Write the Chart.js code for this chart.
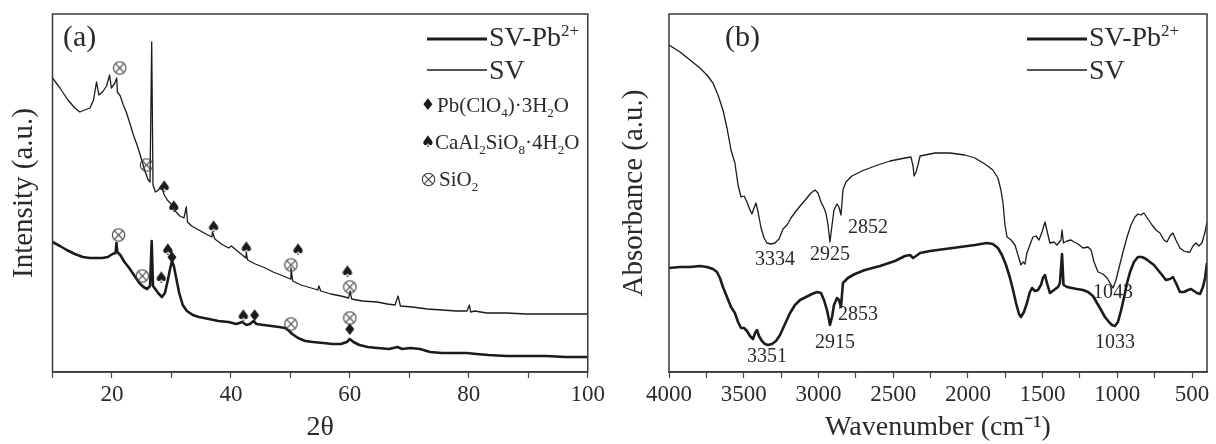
<!DOCTYPE html>
<html lang="en">
<head>
<meta charset="UTF-8">
<title>XRD and FTIR of SV and SV-Pb2+</title>
<script src="https://cdn.jsdelivr.net/npm/chart.js"></script>
<style>
  html, body { margin: 0; padding: 0; background: #fff; }
  #wrap { position: relative; width: 1216px; height: 444px; }
  canvas { position: absolute; top: 0; }
  #xrd { left: 0; }
  #ftir { left: 608px; }
</style>
</head>
<body>
<div id="wrap">
  <canvas id="xrd" width="608" height="444"></canvas>
  <canvas id="ftir" width="608" height="444"></canvas>
</div>
<script>
// ---- (a) XRD: [2theta, intensity a.u.] ----
const xrdSV = [
  [10,294],[11.25,284],[12.6,272],[13.75,264],[14.6,260],[15.4,262],[16.3,264],[16.9,272],
  [17.4,290],[17.8,277],[18.4,280],[19.1,286],[19.6,297],[19.9,284],[20.4,288],[20.8,294],
  [20.9,280],[21.4,276],[21.9,267],[22.4,260],[23.1,247],[23.6,237],[24.1,229],[24.6,220],
  [25.1,210],[25.6,200],[26.1,192],[26.4,190],[26.68,330],[26.9,187],[27.3,180],[27.8,182],
  [28.3,186],[28.8,177],[29.3,172],[29.8,169],[30.3,164],[30.8,160],[31.4,156],[32.1,154],
  [32.5,165],[32.7,150],[33.4,146],[34.6,142],[35.8,138],[36.8,135],[36.9,140],[37.3,133],
  [38.4,128],[39.6,124],[40.1,126],[41.3,120],[42.5,114],[42.6,119],[42.8,112],[44.1,108],
  [45.8,104],[47.1,100],[48.8,96],[50.0,93],[50.1,104],[50.4,91],[51.8,87],[53.5,84],
  [54.6,82],[54.8,86],[55.1,81],[56.8,78],[58.5,76],[59.8,74],[60.05,81],[60.3,73],
  [62.1,71],[64.6,70],[66.3,68],[67.6,67],[68.1,76],[68.5,66],[70.5,65],[73.0,63],
  [75.5,62],[77.9,61],[79.7,61],[80.1,67],[80.3,60],[81.0,61],[83.0,59],[86.3,59],
  [89.7,58],[93.0,58],[96.3,58],[100,58]
];
const xrdSVPb = [
  [10,130],[11.25,126],[12.4,122],[13.75,118],[15.1,115],[16.3,114],[17.4,114],[18.4,114],
  [19.3,115],[20.1,118],[20.6,119],[20.75,129],[20.9,120],[21.4,117],[22.1,110],[22.9,104],
  [23.8,96],[24.6,89],[25.3,85],[25.9,83],[26.4,86],[26.68,131],[26.9,86],[27.4,82],
  [27.9,78],[28.4,75],[28.9,79],[29.4,92],[29.8,104],[30.1,111],[30.4,106],[30.8,94],
  [31.3,79],[31.9,67],[32.6,61],[33.6,57],[34.6,55],[36.3,53],[37.9,51],[39.6,50],
  [40.9,48],[41.9,50],[42.6,47],[43.2,48],[43.8,51],[44.3,48],[45.5,47],[46.8,46],
  [48.1,45],[49.1,44],[49.8,41],[50.3,38],[51.3,34],[52.5,31],[53.8,30],[55.5,29],
  [57.1,28],[58.5,28],[59.5,30],[60.0,33],[60.6,30],[61.6,27],[63.0,25],[64.6,24],
  [66.6,23],[68.0,25],[68.8,23],[70.2,24],[71.8,23],[73.5,20],[75.5,19],[77.9,19],
  [79.6,19],[81.3,18],[83.3,17],[86.3,16],[89.7,16],[93.0,16],[96.3,15],[100,15]
];
const xrdTicks = [10, 20, 30, 40, 50, 60, 70, 80, 90, 100];
const xrdTickLabels = [20, 40, 60, 80, 100];

// phase markers [2theta, intensity]
const svSiO2 = [[21.3,304],[25.8,207],[50.1,107],[60.0,85]];
const svCaAl = [[28.8,185],[30.4,165],[37.1,145],[42.6,124],[51.3,122],[59.6,100]];
const pbSiO2 = [[21.1,137],[25.1,96],[50.1,48],[60.0,54]];
const pbCaAl = [[28.3,94],[29.4,122],[42.1,56]];
const pbPbClO = [[30.1,114],[44.0,56],[60.0,42]];

// ---- (b) FTIR: [wavenumber cm-1, absorbance a.u.] ----
const ftirSV = [
  [4000,327],[3926,320],[3859,312],[3793,304],[3746,297],[3706,289],[3672,277],[3639,262],
  [3612,244],[3585,222],[3559,209],[3538,187],[3518,175],[3498,176],[3478,170],[3458,162],
  [3445,158],[3431,164],[3418,169],[3404,160],[3384,144],[3364,134],[3344,129],[3318,128],
  [3291,129],[3264,133],[3237,143],[3210,147],[3184,154],[3150,161],[3117,167],[3083,173],
  [3050,179],[3023,182],[3003,179],[2983,170],[2963,164],[2950,159],[2936,147],[2923,130],
  [2909,147],[2896,162],[2876,168],[2863,165],[2849,157],[2836,182],[2816,190],[2776,196],
  [2709,201],[2622,206],[2521,211],[2421,214],[2381,215],[2367,206],[2360,196],[2347,200],
  [2334,207],[2320,216],[2287,217],[2220,219],[2120,219],[2020,217],[1953,214],[1886,208],
  [1833,202],[1799,194],[1779,182],[1765,169],[1752,147],[1738,135],[1711,132],[1685,127],
  [1665,117],[1645,107],[1631,110],[1618,108],[1605,119],[1585,127],[1565,135],[1544,136],
  [1524,132],[1504,140],[1484,150],[1464,137],[1451,129],[1424,130],[1404,127],[1377,132],
  [1370,142],[1360,129],[1337,131],[1310,132],[1290,130],[1263,128],[1230,124],[1196,125],
  [1176,122],[1156,110],[1129,100],[1096,98],[1069,94],[1049,89],[1029,84],[1009,92],
  [989,104],[962,120],[935,135],[909,147],[882,155],[862,158],[842,157],[822,159],
  [795,153],[768,147],[741,142],[715,139],[688,132],[668,130],[648,136],[628,139],
  [608,132],[581,124],[554,121],[534,120],[514,120],[494,126],[474,129],[454,126],
  [434,129],[413,140],[400,150]
];
const ftirSVPb = [
  [4000,104],[3926,105],[3859,105],[3793,106],[3746,105],[3706,103],[3679,100],[3659,94],
  [3639,85],[3612,75],[3585,65],[3559,59],[3538,50],[3518,44],[3498,44],[3478,41],
  [3458,36],[3438,33],[3424,39],[3411,42],[3398,36],[3378,31],[3358,28],[3338,27],
  [3311,28],[3284,31],[3257,37],[3224,48],[3190,59],[3157,67],[3123,72],[3083,75],
  [3043,78],[3010,80],[2983,79],[2963,72],[2943,62],[2929,52],[2923,47],[2909,55],
  [2896,67],[2876,74],[2863,72],[2849,65],[2836,89],[2803,94],[2756,98],[2689,102],
  [2588,106],[2488,111],[2421,116],[2387,117],[2367,114],[2347,116],[2320,119],[2253,121],
  [2153,123],[2053,125],[1953,127],[1873,129],[1833,128],[1799,124],[1772,117],[1745,107],
  [1718,94],[1698,82],[1678,69],[1658,58],[1645,55],[1625,60],[1605,69],[1585,80],
  [1571,84],[1551,81],[1531,82],[1511,87],[1498,94],[1484,97],[1471,89],[1451,79],
  [1424,82],[1397,85],[1384,89],[1370,118],[1360,87],[1337,85],[1304,84],[1270,83],
  [1230,82],[1196,80],[1163,76],[1136,69],[1109,62],[1083,55],[1056,50],[1036,47],
  [1016,46],[996,50],[976,61],[956,74],[935,89],[915,100],[889,110],[862,115],
  [835,115],[808,113],[782,110],[755,107],[728,102],[701,97],[675,92],[648,93],
  [628,95],[608,89],[581,80],[554,80],[527,82],[507,83],[487,81],[467,79],
  [447,78],[427,85],[413,94],[400,109]
];
const ftirTicks = [4000, 3750, 3500, 3250, 3000, 2750, 2500, 2250, 2000, 1750, 1500, 1250, 1000, 750, 500];
const ftirTickLabels = [4000, 3500, 3000, 2500, 2000, 1500, 1000, 500];
// peak labels: [text, wavenumber, absorbance]
const ftirPeaks = [
  ['3334', 3291, 112], ['2925', 2923, 117], ['2852', 2669, 144],
  ['3351', 3344, 15], ['2915', 2889, 29], ['2853', 2736, 57],
  ['1043', 1029, 79], ['1033', 1016, 29]
];

const SERIF = '"Liberation Serif", "Times New Roman", serif';
const INK = '#1b1b1b';
const TXT = '#2a2a2a';

Chart.defaults.font.family = SERIF;
Chart.defaults.color = TXT;
Chart.defaults.animation = false;

// little glyph images used as point styles
function glyph(ch, size) {
  const c = document.createElement('canvas');
  c.width = 18; c.height = 18;
  const g = c.getContext('2d');
  g.fillStyle = INK;
  g.font = size + 'px "DejaVu Sans"';
  g.textAlign = 'center';
  g.textBaseline = 'middle';
  g.fillText(ch, 9, 9.5);
  return c;
}
function otimes() {
  const c = document.createElement('canvas');
  c.width = 15; c.height = 15;
  const g = c.getContext('2d');
  g.strokeStyle = '#3c3c3c';
  g.lineWidth = 1.1;
  g.beginPath(); g.arc(7.5, 7.5, 6.2, 0, Math.PI * 2); g.stroke();
  g.beginPath();
  g.moveTo(3.2, 3.2); g.lineTo(11.8, 11.8);
  g.moveTo(11.8, 3.2); g.lineTo(3.2, 11.8);
  g.stroke();
  return c;
}
const imgDiamond = glyph('\u2666', 16);
const imgSpade = glyph('\u2660', 16);
const imgOtimes = otimes();

function pts(a) { return a.map(p => ({ x: p[0], y: p[1] })); }

function curve(label, data, w) {
  return { label, data: pts(data), showLine: true, borderColor: INK, borderWidth: w,
    pointRadius: 0, pointHoverRadius: 0, tension: 0, borderJoinStyle: 'round', order: 2 };
}
function marks(data, img) {
  return { data: pts(data), showLine: false, pointStyle: img, pointRadius: 6,
    pointHoverRadius: 6, order: 1 };
}

function xScale(min, max, tickVals, labelVals, title, reverse) {
  return {
    type: 'linear', min, max, reverse,
    afterBuildTicks: s => { s.ticks = tickVals.map(v => ({ value: v })); },
    afterFit: s => { s.height = 72; },
    ticks: { autoSkip: false, maxRotation: 0, padding: 3, font: { size: 23 }, color: TXT,
      callback: v => labelVals.includes(v) ? String(v) : '' },
    grid: { drawOnChartArea: false, drawTicks: true, tickLength: 6, color: '#444', tickWidth: 1.2 },
    border: { display: true, color: '#3a3a3a', width: 1.5 },
    title: { display: true, text: title, font: { size: 28, lineHeight: 1 }, color: TXT,
      padding: { top: 0, bottom: 2 } }
  };
}
function yScale(title, width, pad) {
  return {
    type: 'linear', min: 0, max: 358,
    afterFit: s => { s.width = width; },
    ticks: { display: false },
    grid: { display: false },
    border: { display: false },
    title: { display: true, text: title, font: { size: 29, lineHeight: 1 }, color: TXT,
      padding: { top: pad, bottom: 0 } }
  };
}

// text with sub/superscripts: parts = [[text, 0 normal | 1 sub | 2 sup]]
function richText(ctx, x, y, parts, size) {
  let cx = x;
  ctx.textAlign = 'left';
  ctx.textBaseline = 'alphabetic';
  parts.forEach(([t, m]) => {
    const fs = m ? Math.round(size * 0.62) : size;
    ctx.font = fs + 'px ' + SERIF;
    const dy = m === 1 ? size * 0.25 : m === 2 ? -size * 0.36 : 0;
    ctx.fillText(t, cx, y + dy);
    cx += ctx.measureText(t).width;
  });
}

const frame = {
  id: 'frame',
  afterDatasetsDraw(c) {
    const a = c.chartArea, ctx = c.ctx;
    ctx.save();
    ctx.strokeStyle = '#3a3a3a';
    ctx.lineWidth = 1.5;
    ctx.strokeRect(a.left, a.top, a.right - a.left, a.bottom - a.top);
    ctx.restore();
  }
};

function decor(panel, px, lx) {
  return {
    id: 'decor',
    afterDraw(c) {
      const ctx = c.ctx;
      ctx.save();
      ctx.fillStyle = TXT;
      ctx.font = '30px ' + SERIF;
      ctx.textBaseline = 'middle';
      ctx.fillText(panel, px, 38);
      // series legend
      ctx.strokeStyle = INK;
      ctx.lineWidth = 3;
      ctx.beginPath(); ctx.moveTo(lx, 39); ctx.lineTo(lx + 60, 39); ctx.stroke();
      ctx.lineWidth = 1.3;
      ctx.beginPath(); ctx.moveTo(lx, 70); ctx.lineTo(lx + 60, 70); ctx.stroke();
      richText(ctx, lx + 62, 46, [['SV-Pb', 0], ['2+', 2]], 28);
      richText(ctx, lx + 62, 79, [['SV', 0]], 28);
      ctx.restore();
    }
  };
}

const phaseLegend = {
  id: 'phaseLegend',
  afterDraw(c) {
    const ctx = c.ctx;
    ctx.save();
    ctx.fillStyle = TXT;
    ctx.drawImage(imgDiamond, 419, 96);
    richText(ctx, 437, 112, [['Pb(ClO', 0], ['4', 1], [')\u00b73H', 0], ['2', 1], ['O', 0]], 21);
    ctx.drawImage(imgSpade, 419, 133);
    richText(ctx, 435, 149, [['CaAl', 0], ['2', 1], ['SiO', 0], ['8', 1], ['\u00b74H', 0], ['2', 1], ['O', 0]], 21);
    ctx.drawImage(imgOtimes, 421, 172);
    richText(ctx, 439, 186, [['SiO', 0], ['2', 1]], 21);
    ctx.restore();
  }
};

const peakLabels = {
  id: 'peakLabels',
  afterDraw(c) {
    const ctx = c.ctx, xs = c.scales.x, ys = c.scales.y;
    ctx.save();
    ctx.fillStyle = TXT;
    ctx.font = '20px ' + SERIF;
    ctx.textAlign = 'center';
    ctx.textBaseline = 'middle';
    ftirPeaks.forEach(([t, wn, a]) => {
      ctx.fillText(t, xs.getPixelForValue(wn), ys.getPixelForValue(a));
    });
    ctx.restore();
  }
};

const common = {
  responsive: false,
  events: [],
  plugins: { legend: { display: false }, tooltip: { enabled: false } }
};

new Chart(document.getElementById('xrd'), {
  type: 'scatter',
  data: {
    datasets: [
      curve('SV-Pb2+', xrdSVPb, 2.6),
      curve('SV', xrdSV, 1.3),
      marks(svSiO2, imgOtimes), marks(svCaAl, imgSpade),
      marks(pbSiO2, imgOtimes), marks(pbCaAl, imgSpade), marks(pbPbClO, imgDiamond)
    ]
  },
  options: Object.assign({}, common, {
    layout: { padding: { left: 0, right: 16, top: 14, bottom: 0 } },
    scales: {
      x: xScale(10, 100, xrdTicks, xrdTickLabels, '2\u03b8', false),
      y: yScale('Intensity (a.u.)', 52.5, 9.5)
    }
  }),
  plugins: [frame, decor('(a)', 63, 427), phaseLegend]
});

new Chart(document.getElementById('ftir'), {
  type: 'scatter',
  data: {
    datasets: [
      curve('SV-Pb2+', ftirSVPb, 2.6),
      curve('SV', ftirSV, 1.3)
    ]
  },
  options: Object.assign({}, common, {
    layout: { padding: { left: 0, right: 9, top: 14, bottom: 0 } },
    scales: {
      x: xScale(400, 4000, ftirTicks, ftirTickLabels, 'Wavenumber (cm\u207b\u00b9)', true),
      y: yScale('Absorbance (a.u.)', 61, 11.5)
    }
  }),
  plugins: [frame, decor('(b)', 117, 419), peakLabels]
});
</script>
</body>
</html>
